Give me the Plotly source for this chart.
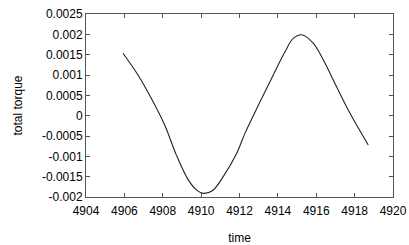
import plotly.graph_objects as go

time = [4905.93, 4906.71, 4907.40, 4908.10, 4908.71, 4909.33, 4909.77,
        4910.11, 4910.60, 4911.15, 4911.85, 4912.29, 4913.07, 4913.76, 4914.37, 4914.80,
        4915.24, 4915.85, 4916.37, 4917.06, 4917.76, 4918.71]
torque = [0.001534, 0.000999, 0.000426, -0.00023, -0.00097, -0.00158, -0.00183,
          -0.00191, -0.00184, -0.0015, -0.00093, -0.00043, 0.00034, 0.0010, 0.00157, 0.0019,
          0.00199, 0.00178, 0.00137, 0.00071, 0.000058, -0.00072]

x_ticks = [4904, 4906, 4908, 4910, 4912, 4914, 4916, 4918, 4920]
y_ticks = [-0.002, -0.0015, -0.001, -0.0005, 0, 0.0005, 0.001, 0.0015, 0.002, 0.0025]
y_labels = ["-0.002", "-0.0015", "-0.001", "-0.0005", "0", "0.0005", "0.001", "0.0015", "0.002", "0.0025"]

FONT = dict(family="Liberation Sans, Arial", size=12, color="black")

fig = go.Figure(go.Scatter(x=time, y=torque, mode="lines",
                           line=dict(color="#222222", width=1.1, shape="spline", smoothing=1.0)))

axis_common = dict(showgrid=False, zeroline=False, showline=True, mirror="ticks",
                   linecolor="#555555", linewidth=1, ticks="inside", ticklen=4,
                   tickcolor="#555555", tickfont=FONT, automargin=False)

fig.update_xaxes(range=[4904, 4920], tickvals=x_ticks, ticktext=[str(v) for v in x_ticks],
                 ticklabelstandoff=3,
                 title=dict(text="time", font=FONT, standoff=16),
                 **axis_common)
fig.update_yaxes(range=[-0.002, 0.0025], tickvals=y_ticks, ticktext=y_labels,
                 title=dict(text="total torque", font=FONT, standoff=16),
                 **axis_common)

fig.update_layout(width=409, height=245, margin=dict(l=86, r=16, t=14, b=48),
                  plot_bgcolor="white", paper_bgcolor="white", showlegend=False)

fig.write_html("out.html", config={"displayModeBar": False},
               post_script="document.body.style.margin='0';")
